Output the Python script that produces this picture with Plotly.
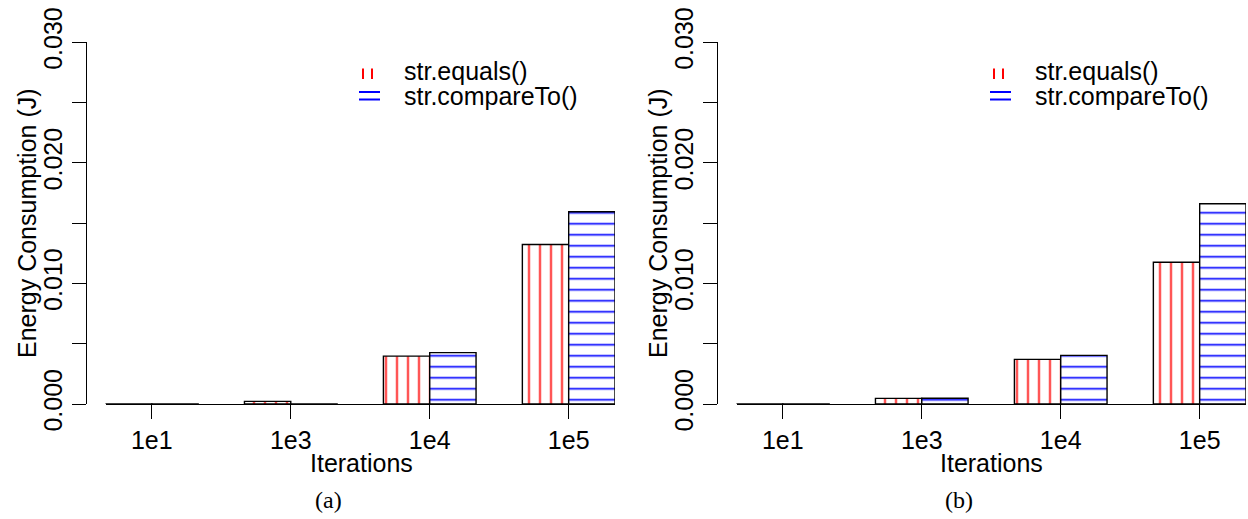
import plotly.graph_objects as go

# Energy consumption of string comparison methods, two measurement runs
iterations = ["1e1", "1e3", "1e4", "1e5"]

equals_a = [0.00001, 0.00022, 0.00397, 0.01323]
compare_a = [0.00001, 0.00001, 0.00426, 0.01594]

equals_b = [0.00001, 0.00047, 0.00370, 0.01176]
compare_b = [0.00001, 0.00048, 0.00403, 0.01661]

y_ticks = [0.000, 0.005, 0.010, 0.015, 0.020, 0.025, 0.030]
y_labels = ["0.000", "", "0.010", "", "0.020", "", "0.030"]

W, H = 1248, 519
SANS = "Liberation Sans, Arial, sans-serif"
SERIF = "Liberation Serif, Times New Roman, serif"
FS = 25

# bar-unit coordinates: each group is two bars wide plus one bar gap
centers = [2 + 3 * i for i in range(len(iterations))]


def px(x):
    return x / W


def py(y):
    return 1 - y / H


fig = go.Figure()

panels = [
    ("x", "y", equals_a, compare_a),
    ("x2", "y2", equals_b, compare_b),
]
for xa, ya, eq, cmp in panels:
    fig.add_trace(go.Bar(
        x=centers, y=eq, width=1, offset=-1, xaxis=xa, yaxis=ya,
        name="str.equals()", showlegend=False, opacity=1,
        marker=dict(color="white", opacity=1, line=dict(color="black", width=1.4),
                    pattern=dict(shape="|", fgcolor="#ff0000", bgcolor="white",
                                 fgopacity=1, fillmode="replace",
                                 size=11, solidity=0.15)),
    ))
    fig.add_trace(go.Bar(
        x=centers, y=cmp, width=1, offset=0, xaxis=xa, yaxis=ya,
        name="str.compareTo()", showlegend=False, opacity=1,
        marker=dict(color="white", opacity=1, line=dict(color="black", width=1.4),
                    pattern=dict(shape="-", fgcolor="#0000ff", bgcolor="white",
                                 fgopacity=1, fillmode="replace",
                                 size=11, solidity=0.15)),
    ))

y_dom = [py(404), py(42.3)]
panel_px = [
    dict(axis=86, left=105.5, right=615, dx=0),
    dict(axis=716.7, left=736.5, right=1246, dx=631),
]

xaxis_common = dict(
    range=[1, 12], showgrid=False, zeroline=False, showline=True,
    linecolor="black", linewidth=1.3, ticks="outside", ticklen=14,
    tickwidth=1.3, tickcolor="black", tickvals=centers, ticktext=iterations,
    tickfont=dict(family=SANS, size=FS, color="black"), fixedrange=True,
    automargin=False,
)
yaxis_common = dict(
    range=[0, 0.030], showgrid=False, zeroline=False, showline=True,
    linecolor="black", linewidth=1.3, ticks="outside", ticklen=14,
    tickwidth=1.3, tickcolor="black", tickvals=y_ticks, ticktext=y_labels,
    tickangle=-90, tickfont=dict(family=SANS, size=FS, color="black"),
    anchor="free", domain=y_dom, fixedrange=True, automargin=False,
)

layout = dict(
    width=W, height=H, margin=dict(l=0, r=0, t=0, b=0, autoexpand=False),
    paper_bgcolor="white", plot_bgcolor="white", barmode="group",
    showlegend=False,
)
for i, p in enumerate(panel_px):
    sfx = "" if i == 0 else "2"
    layout["xaxis" + sfx] = dict(xaxis_common, domain=[px(p["left"]), px(p["right"])],
                                 anchor="y" + sfx)
    layout["yaxis" + sfx] = dict(yaxis_common, position=px(p["axis"]))
fig.update_layout(**layout)

annotations = []
shapes = []
for i, (p, tag) in enumerate(zip(panel_px, ["(a)", "(b)"])):
    dx = p["dx"]
    annotations.append(dict(
        text="Iterations", x=px(361 + dx), y=py(463), xref="paper", yref="paper",
        showarrow=False, font=dict(family=SANS, size=FS, color="black"),
        xanchor="center", yanchor="middle"))
    annotations.append(dict(
        text="Energy Consumption (J)", x=px(27 + dx), y=py(223), xref="paper",
        yref="paper", showarrow=False, textangle=-90,
        font=dict(family=SANS, size=FS, color="black"),
        xanchor="center", yanchor="middle"))
    annotations.append(dict(
        text=tag, x=px(328 + dx), y=py(500), xref="paper", yref="paper",
        showarrow=False, font=dict(family=SERIF, size=24, color="black"),
        xanchor="center", yanchor="middle"))
    # legend entries
    annotations.append(dict(
        text="str.equals()", x=px(402 + dx), y=py(71), xref="paper", yref="paper",
        showarrow=False, font=dict(family=SANS, size=FS, color="black"),
        xanchor="left", yanchor="middle"))
    annotations.append(dict(
        text="str.compareTo()", x=px(402 + dx), y=py(96), xref="paper", yref="paper",
        showarrow=False, font=dict(family=SANS, size=FS, color="black"),
        xanchor="left", yanchor="middle"))
    for lx in (363, 372):
        shapes.append(dict(type="line", xref="paper", yref="paper",
                           x0=px(lx + dx), x1=px(lx + dx), y0=py(68.5), y1=py(79),
                           line=dict(color="#ff0000", width=2)))
    for ly in (92, 99.5):
        shapes.append(dict(type="line", xref="paper", yref="paper",
                           x0=px(359 + dx), x1=px(380 + dx), y0=py(ly), y1=py(ly),
                           line=dict(color="#0000ff", width=2)))

fig.update_layout(annotations=annotations, shapes=shapes)

fig.write_html("out.html")
